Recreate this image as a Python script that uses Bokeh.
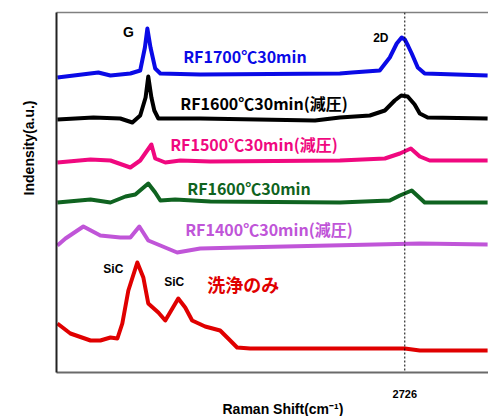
from bokeh.plotting import figure
from bokeh.models import Span, Label, FixedTicker, Title, LinearAxis
from bokeh.embed import file_html
from bokeh.resources import INLINE

# Raman shift (cm^-1) and intensity (a.u., offset per spectrum)
shift_1700 = [1174, 1357, 1411, 1500, 1544, 1565, 1576, 1590, 1611, 1634, 1812, 2436, 2490, 2614, 2659, 2690, 2712, 2726, 2740, 2757, 2784, 2815, 3096]
int_1700 = [295, 300, 297, 299, 302, 325, 344, 325, 304, 299, 298, 299, 300, 302, 315, 329, 335, 333, 327, 319, 305, 299, 297]

shift_1600r = [1174, 1335, 1455, 1509, 1544, 1568, 1580, 1594, 1607, 1625, 1812, 2325, 2436, 2570, 2637, 2681, 2710, 2739, 2770, 2793, 2828, 3096]
int_1600r = [253, 255, 254, 250, 257, 275, 296, 275, 262, 254, 254, 252, 255, 257, 262, 272, 277, 276, 268, 259, 255, 254]

shift_1500r = [1174, 1322, 1411, 1500, 1544, 1594, 1611, 1656, 1723, 1857, 2436, 2637, 2704, 2753, 2793, 2837, 3096]
int_1500r = [210, 213, 212, 205, 212, 228, 214, 210, 212, 211, 212, 214, 219, 224, 216, 212, 212]

shift_1600 = [1174, 1322, 1411, 1478, 1522, 1580, 1611, 1634, 1700, 1857, 2436, 2659, 2704, 2757, 2815, 3000, 3096]
int_1600 = [170, 173, 170, 176, 178, 189, 180, 172, 173, 171, 170, 172, 177, 182, 170, 170, 170]

shift_1400r = [1174, 1210, 1290, 1366, 1455, 1500, 1540, 1580, 1634, 1709, 1812, 1990, 2793, 3096]
int_1400r = [127, 134, 146, 137, 135, 135, 146, 132, 127, 120, 124, 125, 129, 128]

shift_wash = [1174, 1232, 1322, 1366, 1411, 1442, 1464, 1491, 1531, 1558, 1580, 1625, 1656, 1714, 1745, 1776, 1834, 1901, 1937, 1977, 2035, 2124, 2726, 2793, 3096]
int_wash = [49, 39, 32, 32, 35, 34, 49, 82, 110, 95, 69, 60, 52, 74, 65, 52, 46, 42, 34, 25, 24, 24, 24, 22, 22]

series = [
    (shift_1700, int_1700, "#0a0ae6", "RF1700℃30min", 1736, 317),
    (shift_1600r, int_1600r, "#000000", "RF1600℃30min(減圧)", 1723, 270),
    (shift_1500r, int_1500r, "#f0087f", "RF1500℃30min(減圧)", 1678, 229),
    (shift_1600, int_1600, "#0f6320", "RF1600℃30min", 1754, 185),
    (shift_1400r, int_1400r, "#c055d8", "RF1400℃30min(減圧)", 1745, 144),
    (shift_wash, int_wash, "#e00000", "洗浄のみ", 1843, 89),
]

tick_2d = [2726]
tick_labels = {2726: "2726"}

FONT = "Noto Sans CJK JP"
LFONT = "Liberation Sans"

p = figure(width=488, height=416, x_range=(1170, 3100), y_range=(0, 360),
           output_backend="svg", toolbar_location=None,
           min_border_left=56, min_border_right=0, min_border_top=12, min_border_bottom=44)
p.outline_line_color = None
p.grid.visible = False
p.background_fill_color = "white"
p.border_fill_color = "white"

# 2D position marker
p.add_layout(Span(location=2726, dimension="height", line_color="#000000", line_width=1, line_dash="2 2"))

for xs, ys, col, lab, lx, ly in series:
    p.line(xs, ys, line_color=col, line_width=4, line_join="round")
    fs = "18px" if lab == "洗浄のみ" else "16px"
    p.add_layout(Label(x=lx, y=ly, text=lab, text_color=col, text_font=FONT,
                       text_font_style="bold", text_font_size=fs, text_baseline="middle"))

for txt, x, y, fs in [("G", 1491, 341, "14px"), ("2D", 2619, 335, "12px"),
                      ("SiC", 1424, 104, "12px"), ("SiC", 1696, 91, "12px")]:
    p.add_layout(Label(x=x, y=y, text=txt, text_color="#000000", text_font=LFONT,
                       text_font_style="bold", text_font_size=fs,
                       text_align="center", text_baseline="middle"))

# x axis
p.xaxis.ticker = FixedTicker(ticks=tick_2d)
p.xaxis.major_label_overrides = tick_labels
p.xaxis.minor_tick_line_color = None
p.xaxis.major_tick_out = 0
p.xaxis.major_tick_in = 0
p.xaxis.major_label_standoff = 17
p.xaxis.major_label_text_font = LFONT
p.xaxis.major_label_text_font_style = "bold"
p.xaxis.major_label_text_font_size = "11px"
p.xaxis.major_label_text_color = "#000000"
p.xaxis.axis_line_color = "#6a6a6a"
p.xaxis.axis_line_width = 2

# y axis (line only)
p.yaxis.ticker = FixedTicker(ticks=[])
p.yaxis.minor_tick_line_color = None
p.yaxis.major_tick_out = 0
p.yaxis.major_tick_in = 0
p.yaxis.major_label_standoff = 0
p.yaxis.axis_line_color = "#222222"
p.yaxis.axis_line_width = 2

# top frame line
top_axis = LinearAxis(ticker=FixedTicker(ticks=[]), axis_line_color="#808080", axis_line_width=1.5,
                      major_tick_out=0, major_tick_in=0, minor_tick_out=0, minor_tick_in=0,
                      major_label_standoff=0)
p.add_layout(top_axis, "above")

p.add_layout(Title(text="Raman Shift(cm⁻¹)", align="left", offset=166, standoff=-4,
                   text_font=LFONT, text_font_style="bold", text_font_size="14px",
                   text_color="#000000"), "below")
p.add_layout(Title(text="Indensity(a.u.)", align="right", offset=88, standoff=36,
                   vertical_align="top",
                   text_font=LFONT, text_font_style="bold", text_font_size="14px",
                   text_color="#000000"), "left")

open("out.html", "w").write(file_html(p, INLINE))
